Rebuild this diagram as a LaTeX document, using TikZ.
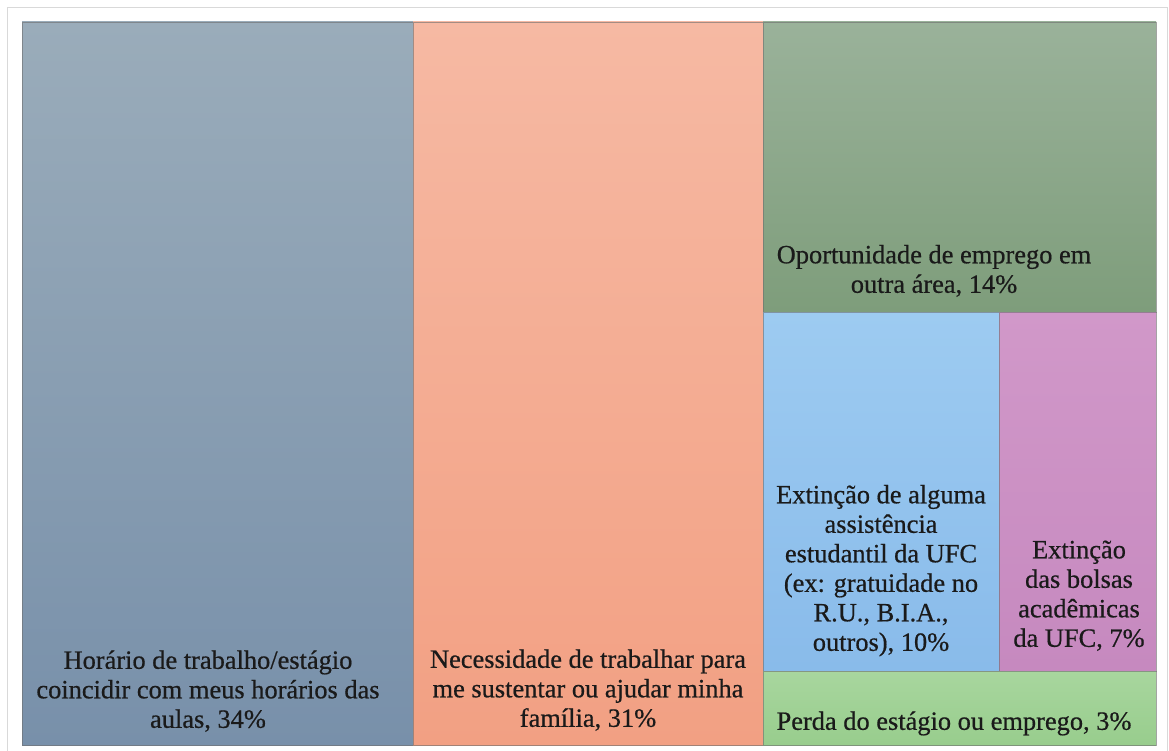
\documentclass[tikz,border=0pt]{standalone}
\usepackage{fontspec}
\setmainfont{Liberation Serif}[FakeBold=0.6]
\definecolor{aTop}{HTML}{9AACBA}
\definecolor{aBot}{HTML}{7890AA}
\definecolor{bTop}{HTML}{F6B9A3}
\definecolor{bBot}{HTML}{F2A083}
\definecolor{cTop}{HTML}{9AB29A}
\definecolor{cBot}{HTML}{7E9D7B}
\definecolor{dTop}{HTML}{9DCBF1}
\definecolor{dBot}{HTML}{89BBEA}
\definecolor{eTop}{HTML}{D198C9}
\definecolor{eBot}{HTML}{C689BF}
\definecolor{fTop}{HTML}{A8D69E}
\definecolor{fBot}{HTML}{98CD8D}
\definecolor{frameC}{HTML}{D9D9D9}
\definecolor{txt}{HTML}{1A1A1A}
\definecolor{edgeC}{HTML}{6E6E6E}
\begin{document}
\begin{tikzpicture}[x=1pt,y=-1pt,
  tile/.style={anchor=north west, inner sep=0pt, outer sep=0pt, draw=edgeC, draw opacity=0.6, line width=0.9pt},
  lbl/.style={anchor=south, inner sep=0pt, align=center, text depth=0pt, text=txt,
    font=\fontsize{26.4}{29.5}\selectfont}]
\useasboundingbox (0,0) rectangle (1169,751);
\fill[white] (0,0) rectangle (1169,751);
\draw[frameC, line width=1pt] (7,760) -- (7,8) -- (1167,8) -- (1167,760);
% tiles
\node[tile, top color=aTop, bottom color=aBot, minimum width=391pt, minimum height=723pt] (A) at (22,22) {};
\node[tile, top color=bTop, bottom color=bBot, minimum width=350pt, minimum height=723pt] (B) at (413,22) {};
\node[tile, top color=cTop, bottom color=cBot, minimum width=393pt, minimum height=290pt] (C) at (763,22) {};
\node[tile, top color=dTop, bottom color=dBot, minimum width=236pt, minimum height=359pt] (D) at (763,312) {};
\node[tile, top color=eTop, bottom color=eBot, minimum width=157pt, minimum height=359pt] (E) at (999,312) {};
\node[tile, top color=fTop, bottom color=fBot, minimum width=393pt, minimum height=74pt] (F) at (763,671) {};
% labels
\node[lbl] (tA) at (208,728) {Horário de trabalho/estágio\\coincidir com meus horários das\\aulas, 34\%};
\node[lbl] (tB) at (588,727) {Necessidade de trabalhar para\\me sustentar ou ajudar minha\\família, 31\%};
\node[lbl] (tC) at (934,293) {Oportunidade de emprego em\\outra área, 14\%};
\node[lbl] (tD) at (881,651) {Extinção de alguma\\assistência\\estudantil da UFC\\(ex: gratuidade no\\R.U., B.I.A.,\\outros), 10\%};
\node[lbl] (tE) at (1079,647) {Extinção\\das bolsas\\acadêmicas\\da UFC, 7\%};
\node[lbl] (tF) at (954,730) {Perda do estágio ou emprego, 3\%};
\end{tikzpicture}
\end{document}
